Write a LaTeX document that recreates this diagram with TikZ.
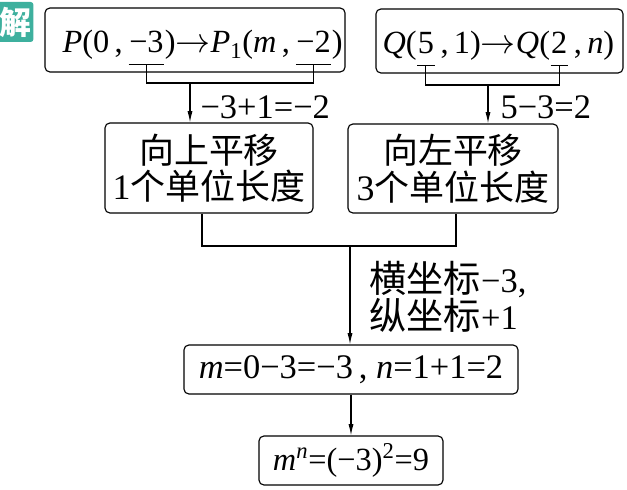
\documentclass[tikz,border=0pt]{standalone}
\usepackage{fontspec}
\setmainfont{Liberation Serif}
\newfontfamily\cjk[Scale=1.08]{Noto Sans CJK SC}
\usetikzlibrary{positioning, arrows.meta}
\definecolor{badgeteal}{RGB}{62, 176, 158}

\begin{document}
\begin{tikzpicture}[x=0.025cm, y=-0.025cm, >={Latex[length=8pt, width=3.6pt]},
    font=\fontsize{23}{26}\selectfont, line width=0.8pt,
    box/.style={draw, rounded corners=3.5pt, inner sep=0pt, align=center},
    piece/.style={inner sep=0pt, anchor=base west},
    ulpiece/.style={piece, text depth=8pt},
    lbl/.style={inner sep=0pt, anchor=west, font=\fontsize{24.5}{28}\selectfont}]
  \useasboundingbox (0,0) rectangle (627,490);
  \clip (0,0) rectangle (627,490);

  % badge
  \node[fill=badgeteal, rounded corners=2pt, anchor=east, text=white,
        minimum width=0.9cm, minimum height=1cm, inner sep=0pt,
        font=\fontsize{21}{21}\selectfont\bfseries\cjk] (badge) at (34,22) {解};

  % P -> P1
  \node[box, minimum width=7.5cm, minimum height=1.6cm] (pbox) at (195,40) {};
  \node[piece] (p1) at (62,53) {\textit{P}(0\,,\,};
  \node[ulpiece] (p2) at (p1.base east) {−3};
  \node[piece] (p3) at (p2.base east) {)$\rightarrow$\textit{P}\textsubscript{1}(\textit{m}\,,\,};
  \node[ulpiece] (p4) at (p3.base east) {−2};
  \node[piece] (p5) at (p4.base east) {)};

  % Q -> Q
  \node[box, minimum width=6.175cm, minimum height=1.6cm] (qbox) at (499.5,41) {};
  \node[piece] (q1) at (382,54) {\textit{Q}(};
  \node[ulpiece] (q2) at (q1.base east) {5};
  \node[piece] (q3) at (q2.base east) {\,,\,1)$\rightarrow$\textit{Q}(};
  \node[ulpiece] (q4) at (q3.base east) {2};
  \node[piece] (q5) at (q4.base east) {\,,\,\textit{n})};

  % translations
  \node[box, minimum width=5.2cm, minimum height=2.25cm] (up) at (209,168)
       {{\cjk 向上平移}\\{\fontsize{25.5}{26}\selectfont 1}{\cjk 个单位长度}};
  \node[box, minimum width=5.25cm, minimum height=2.225cm] (left) at (453,168.5)
       {{\cjk 向左平移}\\{\fontsize{25.5}{26}\selectfont 3}{\cjk 个单位长度}};

  % brackets
  \coordinate (pbar) at (0,83);
  \coordinate (pdrop) at (190,83);
  \draw (p2.south west) -- (p2.south east) (p4.south west) -- (p4.south east);
  \draw (p2.south) -- (p2.south |- pbar) -- (p4.south |- pbar) -- (p4.south);
  \draw[->] (pdrop) -- (pdrop |- up.north);
  \node[lbl] (plbl) at (200,107) {−3+1=−2};

  \coordinate (qbar) at (0,85);
  \coordinate (qdrop) at (488,85);
  \draw (q2.south west) -- (q2.south east) (q4.south west) -- (q4.south east);
  \draw (q2.south) -- (q2.south |- qbar) -- (q4.south |- qbar) -- (q4.south);
  \draw[->] (qdrop) -- (qdrop |- left.north);
  \node[lbl] (qlbl) at (500,107) {5−3=2};

  % join
  \coordinate (ul) at (202,0);
  \coordinate (lr) at (456,0);
  \coordinate (jn) at (350,246);
  \draw (up.south -| ul) |- (jn) -| (left.south -| lr);

  \node[box, minimum width=8.35cm, minimum height=1.225cm,
        font=\fontsize{24.5}{28}\selectfont] (res1) at (351,369.5)
       {\textit{m}=0−3=−3\,, \textit{n}=1+1=2};
  \node[box, minimum width=4.6cm, minimum height=1.225cm] (res2) at (351,460.5)
       {\textit{m}\textsuperscript{\textit{n}}=(−3)\textsuperscript{2}=9};

  \draw[->] (jn) -- (jn |- res1.north);
  \node[lbl] (cond1) at (369,280) {{\cjk 横坐标}−3,};
  \node[lbl] (cond2) at (369,315) {{\cjk 纵坐标}+1};
  \draw[->] (res1) -- (res2);
\end{tikzpicture}
\end{document}
